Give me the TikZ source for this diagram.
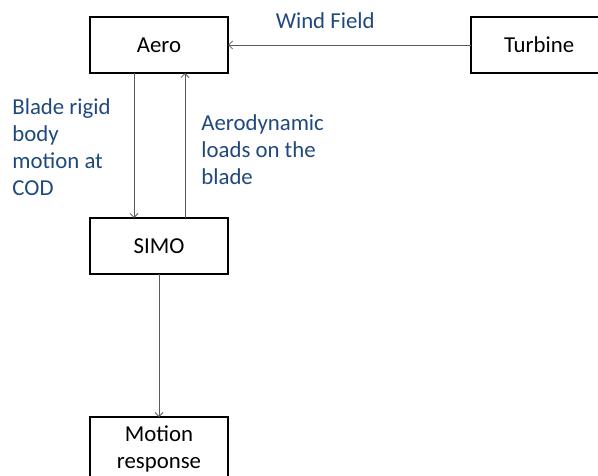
\documentclass[tikz,border=0pt]{standalone}
\usepackage{fontspec}
\setmainfont{Carlito}
\usetikzlibrary{positioning,arrows.meta}

\definecolor{labelblue}{RGB}{31,73,125}
\definecolor{linegray}{RGB}{89,89,89}

\begin{document}
\begin{tikzpicture}[
    x=1pt, y=1pt,
    font=\fontsize{22.8}{27}\selectfont,
    box/.style={rectangle, draw, line width=2pt, minimum width=138pt, minimum height=56pt, inner sep=0pt, outer sep=0pt, align=center},
    arrow/.style={-{Straight Barb[length=4pt, width=8pt]}, draw=linegray, line width=0.8pt},
    label/.style={text=labelblue, align=left, inner sep=0pt},
]
\useasboundingbox (0,0) rectangle (598,475);

% Boxes
\node[box] (aero) at (159,430) {Aero};
\node[box, right=243pt of aero, minimum width=180pt, text width=180pt, align=left] (turbine) {\hspace*{33pt}Turbine};
\node[box, below=145pt of aero] (simo) {SIMO};
\node[box, below=143pt of simo, minimum height=63pt] (motion) {Motion\\response};

% Wind field from turbine to aero
\draw[arrow] (turbine.west) -- node[label, pos=0.6, above=16pt] {Wind Field} (aero.east);

% Coupling between Aero and SIMO
\draw[arrow] ([xshift=-25pt]aero.south) -- node[label, pos=0.51, left=23pt] {Blade rigid\\body\\motion at\\COD} ([xshift=-25pt]simo.north);
\draw[arrow] ([xshift=26pt]simo.north) -- node[label, pos=0.47, right=16pt] {Aerodynamic\\loads on the\\blade} ([xshift=26pt]aero.south);

% Response
\draw[arrow] (simo.south) -- (motion.north);

\end{tikzpicture}
\end{document}
